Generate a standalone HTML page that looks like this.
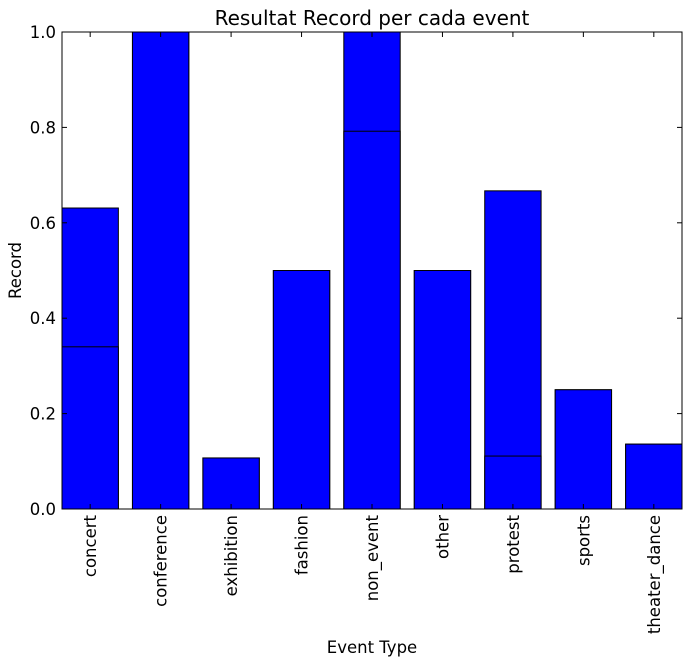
<!DOCTYPE html>
<html><head><meta charset="utf-8"><style>
body{margin:0;background:#fff;}
svg text{font-family:"DejaVu Sans","Liberation Sans",sans-serif;fill:#000;}
</style></head><body>
<svg id="chart" width="691" height="666" xmlns="http://www.w3.org/2000/svg">
<rect width="691" height="666" fill="#fff"/>
<g id="bars"></g>
<g id="axes"></g>
</svg>
<script>
const categories=["concert","conference","exhibition","fashion","non_event","other","protest","sports","theater_dance"];
const seriesA=[0.631,1.0,0.107,0.5,1.0,0.5,0.667,0.25,0.136];
const seriesB=[0.340,1.0,0.107,0.5,0.792,0.5,0.111,0.25,0.136];
const yTicks=[0,0.2,0.4,0.6,0.8,1.0];
const yTickLabels=["0.0","0.2","0.4","0.6","0.8","1.0"];
const L=62,R=682,T=32,B=509;
const xmax=categories.length-0.2;
const xs=v=>L+(v/xmax)*(R-L);
const ys=v=>B-v*(B-T);
const NS="http://www.w3.org/2000/svg";
function mk(tag,attrs,parent){const e=document.createElementNS(NS,tag);for(const k in attrs)e.setAttribute(k,attrs[k]);parent.appendChild(e);return e;}
const bars=document.getElementById('bars'),axes=document.getElementById('axes');
[seriesA,seriesB].forEach((s,si)=>{
 s.forEach((v,i)=>{
  const r=mk('rect',{x:xs(i),y:ys(v),width:xs(i+0.8)-xs(i),height:ys(0)-ys(v),fill:'#0000ff',stroke:'#000','stroke-width':1},bars);
  
  
 });
});
const frame=mk('rect',{x:L,y:T,width:R-L,height:B-T,fill:'none',stroke:'#000','stroke-width':1},axes);


yTicks.forEach((t,i)=>{
 const y=ys(t);
 mk('line',{x1:L,x2:L+5,y1:y,y2:y,stroke:'#000'},axes);
 mk('line',{x1:R,x2:R-5,y1:y,y2:y,stroke:'#000'},axes);
 const tx=mk('text',{x:L-6,y:y+6,'text-anchor':'end','font-size':16.5},axes);
 tx.textContent=yTickLabels[i];
 
 
});
categories.forEach((c,i)=>{
 const x=xs(i+0.4);
 mk('line',{x1:x,x2:x,y1:B,y2:B-5,stroke:'#000'},axes);
 mk('line',{x1:x,x2:x,y1:T,y2:T+5,stroke:'#000'},axes);
 const tx=mk('text',{x:x+6,y:B+6,'text-anchor':'end','font-size':16.5,transform:`rotate(-90 ${x+6} ${B+6})`},axes);
 tx.textContent=c;
 
 
});
const title=mk('text',{x:(L+R)/2,y:25,'text-anchor':'middle','font-size':20},axes);
title.textContent="Resultat Record per cada event";


const xt=mk('text',{x:(L+R)/2,y:653,'text-anchor':'middle','font-size':16.5},axes);
xt.textContent="Event Type";


const yt=mk('text',{x:21,y:(T+B)/2,'text-anchor':'middle','font-size':16.5,transform:`rotate(-90 21 ${(T+B)/2})`},axes);
yt.textContent="Record";


</script>
</body></html>
